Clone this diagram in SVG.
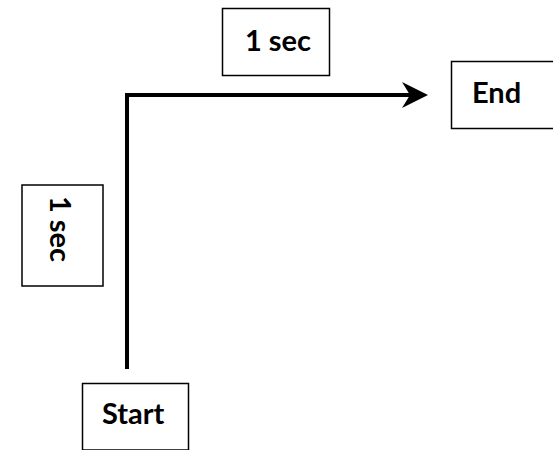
<svg xmlns="http://www.w3.org/2000/svg" width="553" height="450" viewBox="0 0 553 450">
  <style>
    .box { fill: #ffffff; stroke: #000000; stroke-width: 1.5; }
    .lbl { font-family: Lato, "Liberation Sans", sans-serif; font-weight: bold; font-size: 29px; fill: #000000; }
    .conn { fill: none; stroke: #000000; stroke-width: 4; stroke-linejoin: miter; }
  </style>
  <defs>
    <marker id="arrow" markerUnits="userSpaceOnUse" viewBox="-30 -15 32 30" markerWidth="32" markerHeight="30" refX="-16" refY="0" orient="auto" overflow="visible">
      <path d="M0,0 L-26,-13 L-18,0 L-26,13 Z" fill="#000000"/>
    </marker>
  </defs>
  <rect width="553" height="450" fill="#ffffff"/>
  <g id="connectors">
    <path class="conn" d="M127,369 V95 H412" marker-end="url(#arrow)"/>
  </g>
  <g id="label-top">
    <rect class="box" x="222.5" y="8.5" width="107" height="67"/>
    <text class="lbl" x="245" y="51">1 sec</text>
  </g>
  <g id="end">
    <rect class="box" x="451.5" y="61.5" width="110" height="67"/>
    <text class="lbl" x="472" y="103">End</text>
  </g>
  <g id="label-left">
    <rect class="box" x="22" y="185" width="81" height="101"/>
    <text class="lbl" transform="translate(49.5,229) rotate(90)" text-anchor="middle" x="0" y="0">1 sec</text>
  </g>
  <g id="start">
    <rect class="box" x="82.5" y="383.5" width="106" height="66.5"/>
    <text class="lbl" x="102" y="424">Start</text>
  </g>
</svg>
